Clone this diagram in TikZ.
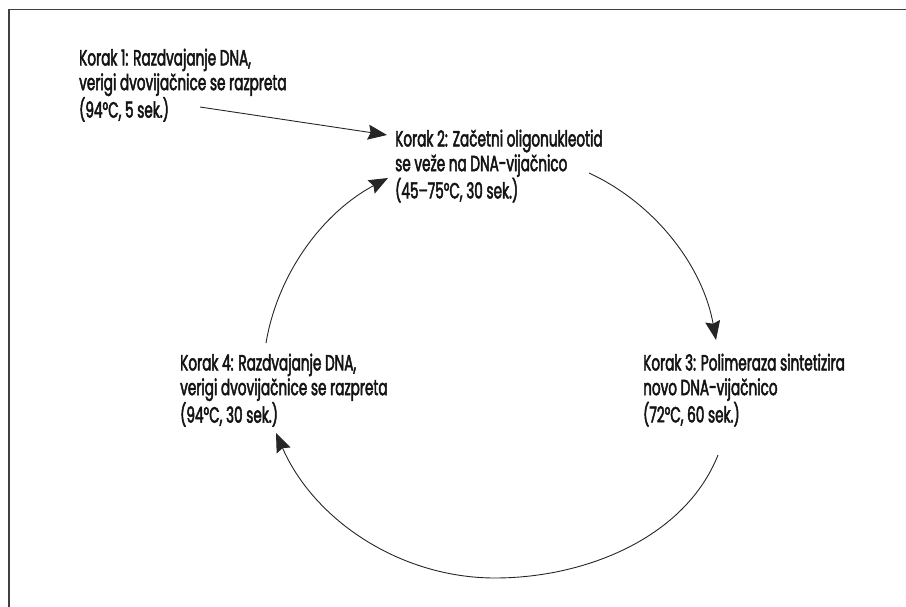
\documentclass[tikz,border=0pt]{standalone}
\usepackage{fontspec}
\setmainfont{Poppins}[FakeStretch=0.62, FakeBold=2.2]
\usetikzlibrary{arrows.meta}

\begin{document}
\begin{tikzpicture}[x=1pt, y=-1pt,
  stepbox/.style={anchor=north west, inner sep=0pt, align=left, text=black!92,
    font=\fontsize{22}{24.7}\selectfont},
  cyc/.style={draw=black!85, line width=0.9pt,
    -{Stealth[length=19pt,width=15pt,inset=2.5pt]}}
]
  \useasboundingbox (0,0) rectangle (906,607);
  \draw[black!75, line width=1.5pt] (906,9.5) -- (9,9.5) -- (9,607);

  \node[stepbox] (k1) at (79,48.5) {Korak 1: Razdvajanje DNA,\\verigi dvovijačnice se razpreta\\(94°C, 5 sek.)};
  \node[stepbox] (k2) at (395,129.5) {Korak 2: Začetni oligonukleotid\\se veže na DNA-vijačnico\\(45–75°C, 30 sek.)};
  \node[stepbox] (k3) at (643,353.5) {Korak 3: Polimeraza sintetizira\\novo DNA-vijačnico\\(72°C, 60 sek.)};
  \node[stepbox] (k4) at (180,353.5) {Korak 4: Razdvajanje DNA,\\verigi dvovijačnice se razpreta\\(94°C, 30 sek.)};

  \coordinate (k1-out) at (200,107);
  \coordinate (k2-in) at (387,135);
  \coordinate (k2-out) at (589,173);
  \coordinate (k3-in) at (716,340);
  \coordinate (k3-out) at (718,455);
  \coordinate (low) at (495,578);
  \coordinate (k4-in) at (276,433);
  \coordinate (k4-out) at (266,343);
  \coordinate (k2-back) at (388,178);

  \draw[cyc] (k1-out) -- (k2-in);
  \draw[cyc] (k2-out) .. controls +(67,31) and +(-13,-73) .. (k3-in);
  \draw[cyc] (k3-out) .. controls +(-33,83) and +(90,0) .. (low)
    .. controls +(-95,0) and +(38,87) .. (k4-in);
  \draw[cyc] (k4-out) .. controls +(12,-71) and +(-64,34) .. (k2-back);
\end{tikzpicture}
\end{document}
